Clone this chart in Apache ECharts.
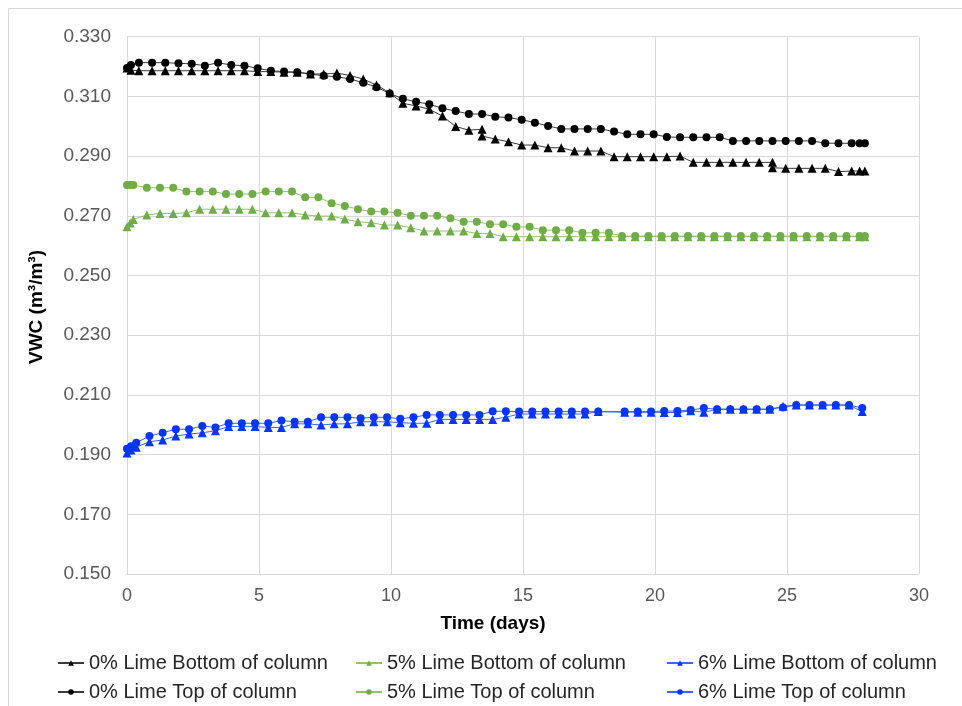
<!DOCTYPE html>
<html>
<head>
<meta charset="utf-8">
<script src="https://cdn.jsdelivr.net/npm/echarts@6/dist/echarts.min.js"></script>
<style>
html,body{margin:0;padding:0;background:#fff;}
#chart{width:962px;height:706px;}
</style>
</head>
<body>
<div id="chart"></div>
<script>
// ---- data (time in days, VWC in m3/m3) ----
const tBlackTop = [0,0.15,0.45,0.95,1.45,1.95,2.45,2.95,3.45,3.95,4.45,4.95,5.45,5.95,6.45,6.95,7.45,7.95,8.45,8.95,9.45,9.95,10.45,10.95,11.45,11.95,12.45,12.95,13.45,13.95,14.45,14.95,15.45,15.95,16.45,16.95,17.45,17.95,18.45,18.95,19.45,19.95,20.45,20.95,21.45,21.95,22.45,22.95,23.45,23.95,24.45,24.95,25.45,25.95,26.45,26.95,27.45,27.75,27.95];
const vBlackTop = [0.3195,0.3205,0.3213,0.3213,0.3213,0.3211,0.3209,0.3203,0.3213,0.3205,0.3203,0.3194,0.3186,0.3183,0.3181,0.3175,0.3169,0.3166,0.3158,0.3146,0.3131,0.3110,0.3092,0.3082,0.3074,0.3060,0.3051,0.3041,0.3041,0.3032,0.3029,0.3022,0.3012,0.3001,0.2991,0.2991,0.2991,0.2991,0.2982,0.2973,0.2973,0.2973,0.2964,0.2963,0.2963,0.2963,0.2963,0.2951,0.2951,0.2951,0.2951,0.2951,0.2951,0.2951,0.2943,0.2943,0.2943,0.2943,0.2943];

const tBlackBottom = [0,0.15,0.45,0.95,1.45,1.95,2.45,2.95,3.45,3.95,4.45,4.95,5.45,5.95,6.45,6.95,7.45,7.95,8.45,8.95,9.45,9.95,10.45,10.95,11.45,11.95,12.45,12.95,13.45,13.45,13.95,14.45,14.95,15.45,15.95,16.45,16.95,17.45,17.95,18.45,18.95,19.45,19.95,20.45,20.95,21.45,21.95,22.45,22.95,23.45,23.95,24.45,24.45,24.95,25.45,25.95,26.45,26.95,27.45,27.75,27.95];
const vBlackBottom = [0.3195,0.3188,0.3186,0.3186,0.3186,0.3186,0.3186,0.3186,0.3186,0.3186,0.3186,0.3183,0.3183,0.3181,0.3181,0.3175,0.3175,0.3178,0.3170,0.3158,0.3138,0.3112,0.3077,0.3068,0.3057,0.3034,0.2999,0.2987,0.2990,0.2967,0.2957,0.2948,0.2937,0.2937,0.2928,0.2928,0.2917,0.2917,0.2917,0.2898,0.2898,0.2898,0.2898,0.2898,0.2900,0.2879,0.2879,0.2879,0.2879,0.2879,0.2879,0.2879,0.2861,0.2859,0.2859,0.2859,0.2859,0.2848,0.2850,0.2850,0.2850];

const tGreen = [0,0.12,0.24,0.75,1.25,1.75,2.25,2.75,3.25,3.75,4.25,4.75,5.25,5.75,6.25,6.75,7.25,7.75,8.25,8.75,9.25,9.75,10.25,10.75,11.25,11.75,12.25,12.75,13.25,13.75,14.25,14.75,15.25,15.75,16.25,16.75,17.25,17.75,18.25,18.75,19.25,19.75,20.25,20.75,21.25,21.75,22.25,22.75,23.25,23.75,24.25,24.75,25.25,25.75,26.25,26.75,27.25,27.75,27.95];
const vGreenTop = [0.2803,0.2803,0.2803,0.2794,0.2794,0.2794,0.2781,0.2781,0.2781,0.2773,0.2773,0.2773,0.2781,0.2781,0.2781,0.2762,0.2762,0.2742,0.2733,0.2722,0.2714,0.2714,0.2710,0.2700,0.2700,0.2700,0.2692,0.2680,0.2680,0.2672,0.2672,0.2663,0.2663,0.2652,0.2652,0.2652,0.2643,0.2643,0.2643,0.2632,0.2632,0.2632,0.2632,0.2632,0.2632,0.2632,0.2632,0.2632,0.2632,0.2632,0.2632,0.2632,0.2632,0.2632,0.2632,0.2632,0.2632,0.2632,0.2632];
const vGreenBottom = [0.2663,0.2676,0.2688,0.2703,0.2708,0.2708,0.2710,0.2722,0.2722,0.2722,0.2722,0.2722,0.2710,0.2710,0.2710,0.2703,0.2699,0.2699,0.2689,0.2680,0.2677,0.2669,0.2669,0.2660,0.2649,0.2649,0.2649,0.2649,0.2641,0.2641,0.2630,0.2630,0.2630,0.2630,0.2630,0.2630,0.2630,0.2630,0.2630,0.2630,0.2630,0.2630,0.2630,0.2630,0.2630,0.2630,0.2630,0.2630,0.2630,0.2630,0.2630,0.2630,0.2630,0.2630,0.2630,0.2630,0.2630,0.2630,0.2630];

const tBlue = [0,0.15,0.35,0.85,1.35,1.85,2.35,2.85,3.35,3.85,4.35,4.85,5.35,5.85,6.35,6.85,7.35,7.85,8.35,8.85,9.35,9.85,10.35,10.85,11.35,11.85,12.35,12.85,13.35,13.85,14.35,14.85,15.35,15.85,16.35,16.85,17.35,17.85,18.85,19.35,19.85,20.35,20.85,21.35,21.85,22.35,22.85,23.35,23.85,24.35,24.85,25.35,25.85,26.35,26.85,27.35,27.85];
const vBlueTop = [0.1920,0.1928,0.1940,0.1962,0.1973,0.1985,0.1985,0.1996,0.1991,0.2005,0.2005,0.2005,0.2005,0.2014,0.2010,0.2010,0.2025,0.2025,0.2025,0.2022,0.2025,0.2025,0.2020,0.2025,0.2033,0.2033,0.2033,0.2033,0.2033,0.2045,0.2045,0.2044,0.2044,0.2044,0.2044,0.2044,0.2044,0.2044,0.2044,0.2044,0.2044,0.2046,0.2046,0.2049,0.2056,0.2052,0.2052,0.2052,0.2052,0.2052,0.2058,0.2066,0.2066,0.2066,0.2066,0.2066,0.2056];
const vBlueBottom = [0.1905,0.1915,0.1925,0.1943,0.1949,0.1962,0.1969,0.1973,0.1980,0.1994,0.1994,0.1994,0.1991,0.1991,0.2003,0.2003,0.1999,0.2003,0.2003,0.2010,0.2010,0.2010,0.2007,0.2005,0.2005,0.2018,0.2018,0.2018,0.2018,0.2018,0.2025,0.2036,0.2036,0.2036,0.2036,0.2036,0.2036,0.2044,0.2042,0.2042,0.2042,0.2041,0.2041,0.2047,0.2042,0.2052,0.2052,0.2052,0.2052,0.2052,0.2062,0.2066,0.2066,0.2066,0.2066,0.2066,0.2044];

const seriesNames = ['0% Lime Bottom of column','5% Lime Bottom of column','6% Lime Bottom of column','0% Lime Top of column','5% Lime Top of column','6% Lime Top of column'];
const xTicks = {min:0, max:30, interval:5};
const yTicks = {min:0.15, max:0.33, interval:0.02};

// ---- chart ----
const FONT = "'Liberation Sans', Arial, sans-serif";
function pairs(t, v){ return t.map((x,i)=>[x, v[i]]); }
function mk(name, t, v, symbol, size, mcolor, lcolor){
  return {
    name, type:'line', data: pairs(t, v),
    symbol, symbolSize: size, showSymbol:true, showAllSymbol:true,
    itemStyle:{color:mcolor, borderWidth:0},
    lineStyle:{color:lcolor, width:1},
    emphasis:{disabled:true}, animation:false, z: 3
  };
}
const C_BLACK='#000000', L_BLACK='#3a3a3a';
const C_GREEN='#70ad47', L_GREEN='#8fc46b';
const C_BLUE='#0535ff', L_BLUE='#3d63ff';

const chart = echarts.init(document.getElementById('chart'), null, {renderer:'canvas'});
const legendCommon = {
  orient:'vertical', top:653, height:60, itemWidth:26, itemHeight:7, itemGap:9,
  textStyle:{fontFamily:FONT, fontSize:20, lineHeight:20, color:'#262626'},
  selectedMode:false, padding:0
};
chart.setOption({
  animation:false,
  backgroundColor:'#ffffff',
  grid:{left:127, right:43, top:36.7, bottom:132, containLabel:false},
  xAxis:{
    type:'value', min:xTicks.min, max:xTicks.max, interval:xTicks.interval,
    axisLine:{show:true, lineStyle:{color:'#d9d9d9', width:1}},
    axisTick:{show:false},
    splitLine:{show:true, lineStyle:{color:'#d9d9d9', width:1}},
    axisLabel:{fontFamily:FONT, fontSize:18, color:'#595959', margin:13}
  },
  yAxis:{
    type:'value', min:yTicks.min, max:yTicks.max, interval:yTicks.interval,
    axisLine:{show:true, lineStyle:{color:'#d9d9d9', width:1}},
    axisTick:{show:false},
    splitLine:{show:true, lineStyle:{color:'#d9d9d9', width:1}},
    axisLabel:{fontFamily:FONT, fontSize:19, color:'#595959', margin:16,
      formatter:(v)=>v.toFixed(3)}
  },
  legend:[
    Object.assign({}, legendCommon, {left:57, data:[seriesNames[0], seriesNames[3]]}),
    Object.assign({}, legendCommon, {left:355, data:[seriesNames[1], seriesNames[4]]}),
    Object.assign({}, legendCommon, {left:666, data:[seriesNames[2], seriesNames[5]]})
  ],
  graphic:[
    {type:'rect', shape:{x:8.5, y:8.5, width:960, height:720}, style:{fill:'none', stroke:'#d9d9d9', lineWidth:1}, silent:true},
    {type:'text', x:37, y:307, rotation:Math.PI/2, style:{text:'VWC (m³/m³)', font:"bold 19px 'Liberation Sans', Arial, sans-serif", fill:'#000', align:'center', verticalAlign:'middle'}},
    {type:'text', x:493, y:624, style:{text:'Time (days)', font:"bold 19px 'Liberation Sans', Arial, sans-serif", fill:'#000', align:'center', verticalAlign:'middle'}}
  ],
  series:[
    mk(seriesNames[0], tBlackBottom, vBlackBottom, 'triangle', 9, C_BLACK, L_BLACK),
    mk(seriesNames[1], tGreen, vGreenBottom, 'triangle', 9, C_GREEN, L_GREEN),
    mk(seriesNames[2], tBlue, vBlueBottom, 'triangle', 9, C_BLUE, L_BLUE),
    mk(seriesNames[3], tBlackTop, vBlackTop, 'circle', 8, C_BLACK, L_BLACK),
    mk(seriesNames[4], tGreen, vGreenTop, 'circle', 8, C_GREEN, L_GREEN),
    mk(seriesNames[5], tBlue, vBlueTop, 'circle', 8, C_BLUE, L_BLUE)
  ]
});
</script>
</body>
</html>
